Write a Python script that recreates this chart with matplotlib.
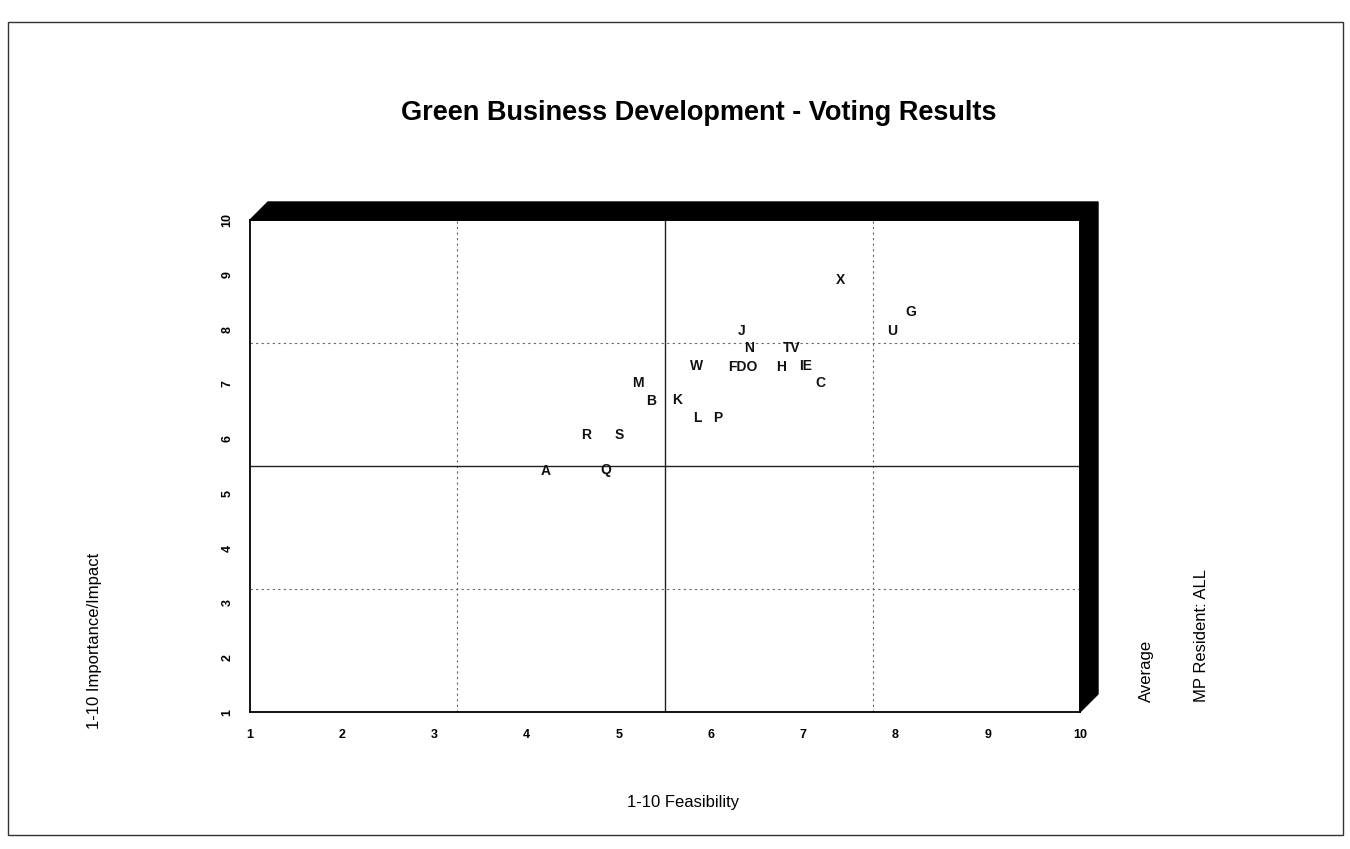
import matplotlib
matplotlib.use("Agg")
import matplotlib.pyplot as plt
from matplotlib.patches import Polygon, Rectangle

# Voting results: average scores per idea
labels = ["X", "G", "U", "J", "N", "TV", "W", "FDO", "H", "IE",
          "C", "M", "B", "K", "L", "P", "R", "S", "A", "Q"]
feasibility = [7.40, 8.17, 7.96, 6.33, 6.41, 6.87, 5.84, 6.34, 6.76, 7.02,
               7.19, 5.21, 5.35, 5.63, 5.85, 6.07, 4.65, 5.00, 4.21, 4.86]
importance = [8.90, 8.31, 7.97, 7.97, 7.65, 7.65, 7.33, 7.32, 7.32, 7.33,
              7.02, 7.01, 6.69, 6.70, 6.38, 6.38, 6.07, 6.06, 5.41, 5.43]

ticks = [1, 2, 3, 4, 5, 6, 7, 8, 9, 10]
mid_lines = [5.5]
quarter_lines = [3.25, 7.75]

plt.rcParams["font.family"] = ["Liberation Sans", "DejaVu Sans"]

W, H = 1350, 849
fig = plt.figure(figsize=(W / 100, H / 100), dpi=100)
fig.patch.set_facecolor("white")

# page frame
fig.add_artist(Rectangle((8 / W, 1 - 835 / H), (1343 - 8) / W, (835 - 22) / H,
                         transform=fig.transFigure, fill=False,
                         edgecolor="#333333", linewidth=1.0))

ax_l, ax_r, ax_t, ax_b = 250, 1080, 220, 712
ax = fig.add_axes([ax_l / W, 1 - ax_b / H, (ax_r - ax_l) / W, (ax_b - ax_t) / H])
ax.set_xlim(1, 10)
ax.set_ylim(1, 10)

for v in quarter_lines:
    ax.axvline(v, color="#666666", linestyle=(0, (2, 3)), linewidth=0.8)
    ax.axhline(v, color="#666666", linestyle=(0, (2, 3)), linewidth=0.8)
for v in mid_lines:
    ax.axvline(v, color="#222222", linewidth=1.0)
    ax.axhline(v, color="#222222", linewidth=1.0)

for lab, x, y in zip(labels, feasibility, importance):
    ax.text(x, y, lab, ha="center", va="center", fontsize=10,
            fontweight="bold", color="#111111")

for s in ax.spines.values():
    s.set_linewidth(1.3)
    s.set_color("black")

ax.set_xticks(ticks)
ax.set_yticks(ticks)
ax.set_xticklabels([str(t) for t in ticks], fontsize=9, fontweight="bold")
ax.set_yticklabels([str(t) for t in ticks], fontsize=9, fontweight="bold",
                   rotation=90, va="center")
ax.tick_params(axis="both", length=0)
ax.tick_params(axis="x", pad=12)
ax.tick_params(axis="y", pad=12)

# 3-D depth bands on the top and right of the plot box
dx = 18 / (ax_r - ax_l)
dy = 18 / (ax_b - ax_t)
top_band = Polygon([(0, 1), (1, 1), (1 + dx, 1 + dy), (dx, 1 + dy)],
                   closed=True, transform=ax.transAxes, clip_on=False,
                   facecolor="black", edgecolor="black")
right_band = Polygon([(1, 1), (1, 0), (1 + dx, dy), (1 + dx, 1 + dy)],
                     closed=True, transform=ax.transAxes, clip_on=False,
                     facecolor="black", edgecolor="black")
ax.add_patch(top_band)
ax.add_patch(right_band)

fig.text(699 / W, 1 - 113 / H, "Green Business Development - Voting Results",
         ha="center", va="center", fontsize=19.5, fontweight="bold")
fig.text(683 / W, 1 - 803 / H, "1-10 Feasibility", ha="center", va="center",
         fontsize=12)
fig.text(95 / W, 1 - 641 / H, "1-10 Importance/Impact", ha="center",
         va="center", rotation=90, fontsize=12)
fig.text(1146 / W, 1 - 702 / H, "Average", ha="center", va="bottom",
         rotation=90, fontsize=12)
fig.text(1201 / W, 1 - 702 / H, "MP Resident: ALL", ha="center", va="bottom",
         rotation=90, fontsize=12)

fig.savefig("out.png", dpi=100, facecolor="white")
